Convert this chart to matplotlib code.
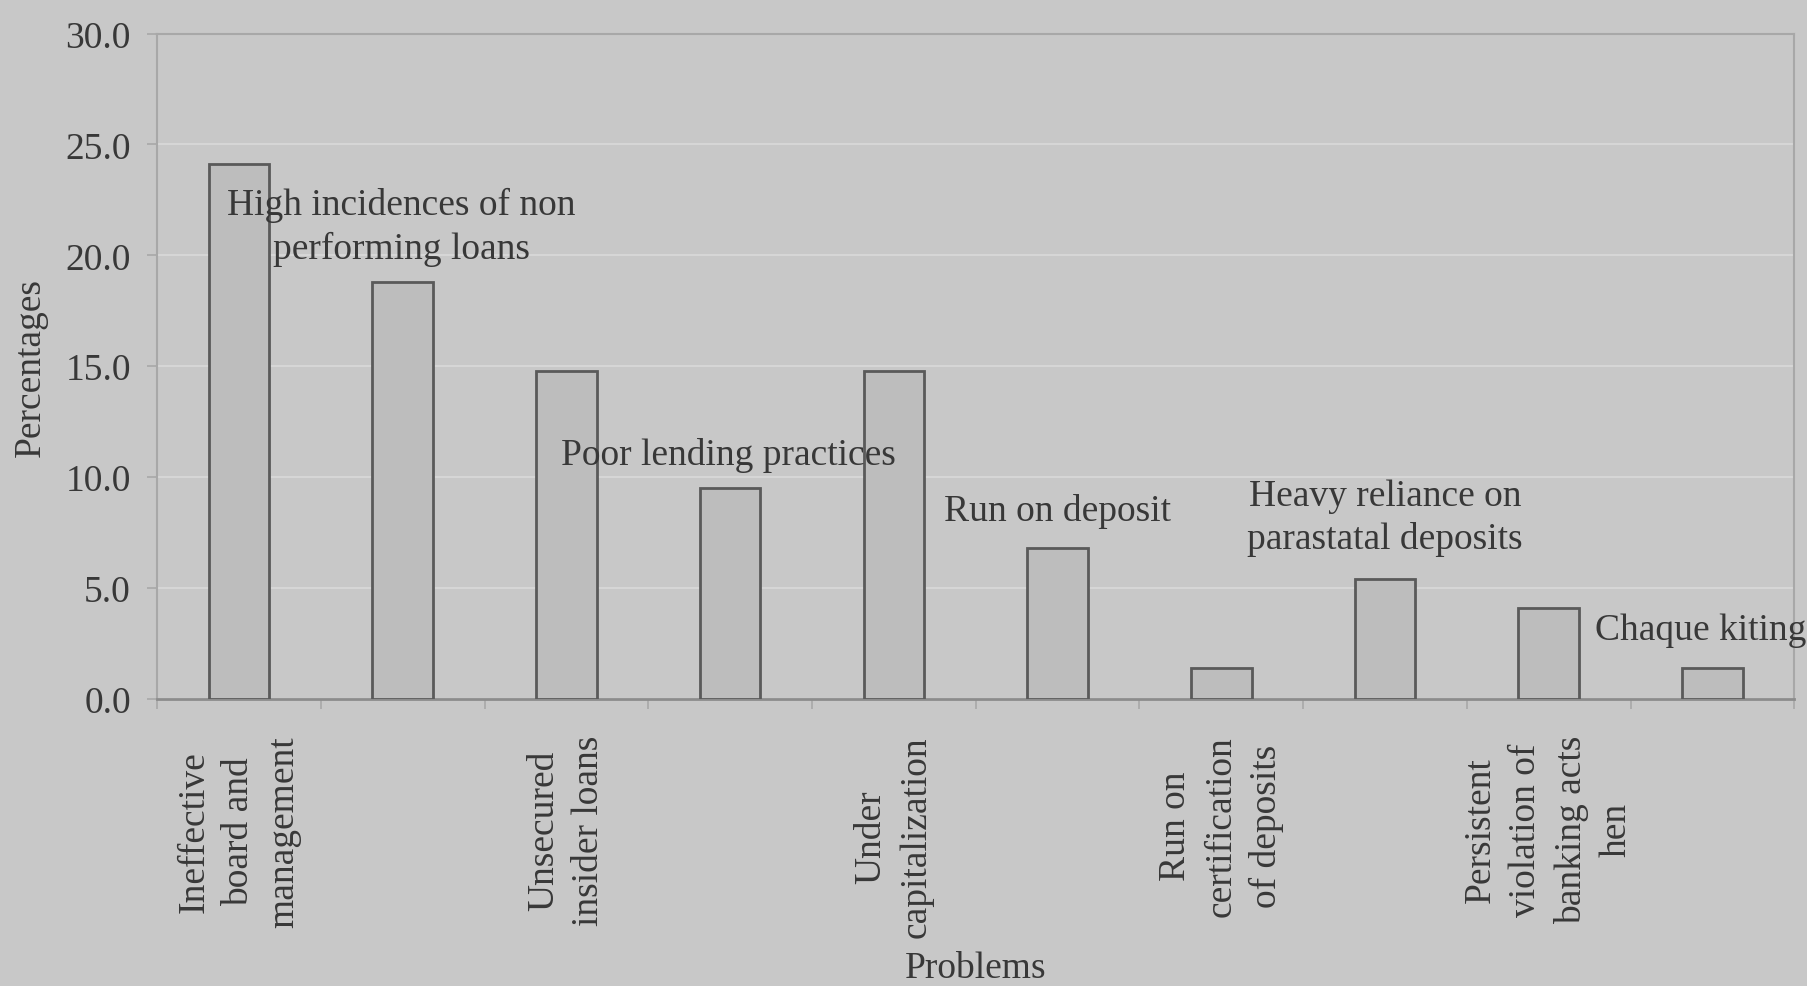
import numpy as np
import matplotlib
matplotlib.use("Agg")
import matplotlib.pyplot as plt

plt.rcParams['font.family'] = ['Liberation Serif', 'DejaVu Serif']

problems = ["Ineffective\nboard and\nmanagement",
            "High incidences of non\nperforming loans",
            "Unsecured\ninsider loans",
            "Poor lending practices",
            "Under\ncapitalization",
            "Run on deposit",
            "Run on\ncertification\nof deposits",
            "Heavy reliance on\nparastatal deposits",
            "Persistent\nviolation of\nbanking acts\nhen",
            "Chaque kiting"]
percent = [24.1, 18.8, 14.8, 9.5, 14.8, 6.8, 1.4, 5.4, 4.1, 1.4]
yticks = [0, 5, 10, 15, 20, 25, 30]

# labels of the even bars sit above the plot, the odd ones go under the axis
above_y = [21.3, 11.0, 8.5, 8.2, 3.1]
above_dx = [-0.01, -0.01, 0.0, 0.0, -0.07]

bg = '#c8c8c8'
txt = '#383838'

fig = plt.figure(figsize=(18.07, 9.87), dpi=100, facecolor=bg)
ax = fig.add_axes([0.087, 0.291, 0.906, 0.674], facecolor=bg)

x = np.arange(len(percent))
ax.bar(x, percent, width=0.37, color='#bdbdbd', edgecolor='#5a5a5a', linewidth=2, zorder=3)

ax.set_xlim(-0.5, len(percent) - 0.5)
ax.set_ylim(0, 30)
ax.set_yticks(yticks)
ax.set_yticklabels(["%.1f" % v for v in yticks], fontsize=27, color=txt)
ax.yaxis.grid(True, color='#d6d6d6', linewidth=1.5, zorder=0)

ax.set_xticks(x[::2])
ax.set_xticklabels(problems[::2], rotation=90, fontsize=27, color=txt,
                   linespacing=1.4, multialignment='center')
ax.set_xticks(np.arange(len(percent) + 1) - 0.5, minor=True)
ax.tick_params(axis='x', which='major', length=0, pad=26)
ax.tick_params(axis='x', which='minor', length=7, color='#a8a8a8', width=1.2)
ax.tick_params(axis='y', length=7, color='#a8a8a8', width=1.2, pad=12)

for k, i in enumerate(x[1::2]):
    ax.text(i + above_dx[k], above_y[k], problems[i], ha='center', va='center',
            fontsize=27, color=txt, linespacing=1.3, zorder=4)

for side in ['top', 'left', 'right']:
    ax.spines[side].set_color('#a8a8a8')
    ax.spines[side].set_linewidth(1.5)
ax.spines['bottom'].set_color('#8c8c8c')
ax.spines['bottom'].set_linewidth(2)

ax.set_ylabel("Percentages", fontsize=27, color=txt)
ax.yaxis.set_label_coords(-0.067, 0.5)
ax.set_xlabel("Problems", fontsize=27, color=txt)
ax.xaxis.set_label_coords(0.5, -0.405)
ax.xaxis.label.set_va('center')

fig.savefig("out.png", dpi=100, facecolor=bg)
